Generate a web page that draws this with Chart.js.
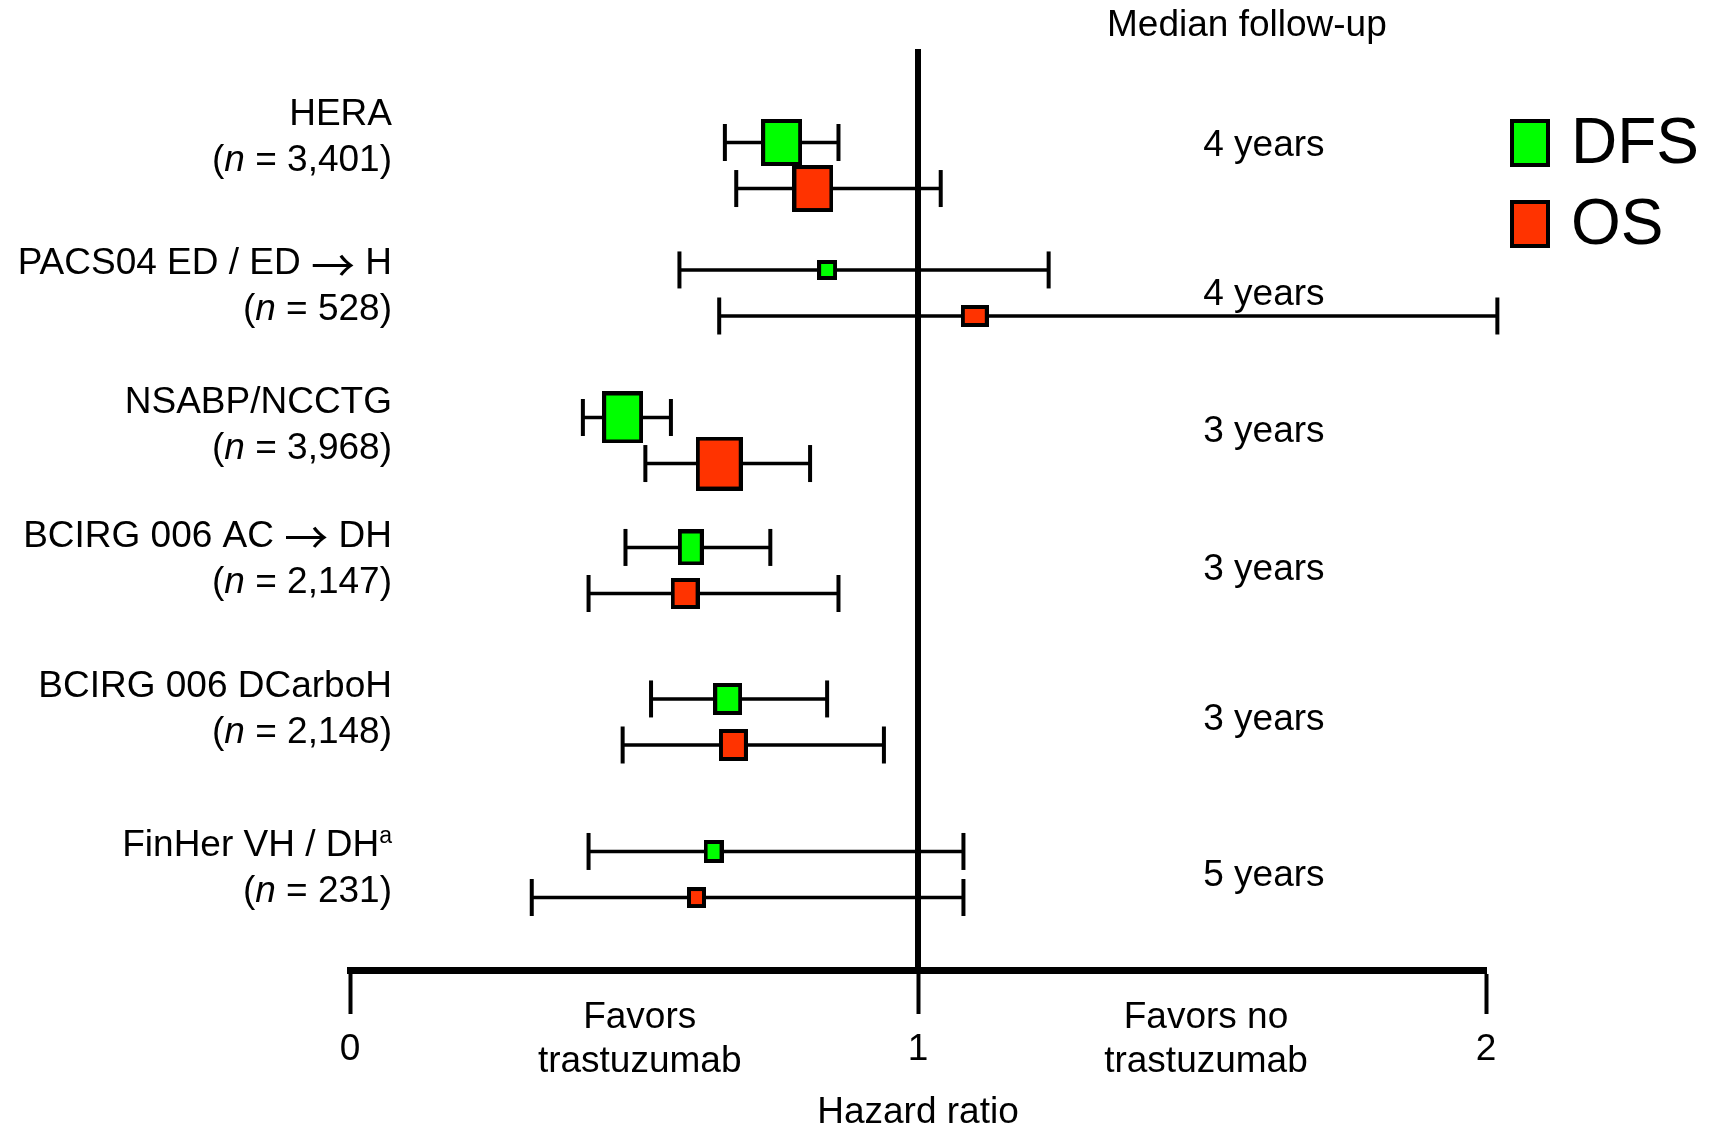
<!DOCTYPE html>
<html>
<head>
<meta charset="utf-8">
<script src="https://cdn.jsdelivr.net/npm/chart.js@4.4.1/dist/chart.umd.min.js"></script>
<style>
    html, body { margin: 0; padding: 0; background: #fff; }
    #wrap { width: 1711px; height: 1131px; position: relative; }
</style>
</head>
<body>
<div id="wrap"><canvas id="forest-chart"></canvas></div>
<script>
// Data
const studies = ["HERA", "PACS04 ED / ED \u2192 H", "NSABP/NCCTG", "BCIRG 006 AC \u2192 DH", "BCIRG 006 DCarboH", "FinHer VH / DH"];
const footnotes = ["", "", "", "", "", "a"];
const sampleSizes = ["3,401", "528", "3,968", "2,147", "2,148", "231"];
const followUp = ["4 years", "4 years", "3 years", "3 years", "3 years", "5 years"];
const dfsHR = [0.76, 0.84, 0.48, 0.60, 0.665, 0.64];
const dfsLow = [0.66, 0.58, 0.41, 0.485, 0.53, 0.42];
const dfsHigh = [0.86, 1.23, 0.565, 0.74, 0.84, 1.08];
const osHR = [0.815, 1.10, 0.65, 0.59, 0.675, 0.61];
const osLow = [0.68, 0.65, 0.52, 0.42, 0.48, 0.32];
const osHigh = [1.04, 2.02, 0.81, 0.86, 0.94, 1.08];
const xTicks = [0, 1, 2];

// Layout / style
const FONT = "'Liberation Sans', Arial, Helvetica, sans-serif";
const ARROW_FONT = "'Noto Sans CJK JP', 'DejaVu Sans', sans-serif";
const DFS_COLOR = "#00ff00";
const OS_COLOR = "#ff3300";
const rowPos = [1.265, 2.649, 4.251, 5.662, 7.307, 8.963];
const rowGap = 0.25;
const labelShift = [-28, -6, -15, -11, -12, -6];
const followShift = [-20, 2, -9, -1, -2, 1];
const dfsBox = [[41, 47], [20, 20], [41, 52], [26, 36], [29, 32], [20, 23]];
const osBox = [[41, 47], [28, 22], [47, 54], [29, 31], [29, 32], [19, 21]];

let makeBox = (w, h, fill) => {
    const c = document.createElement("canvas");
    c.width = w;
    c.height = h;
    const g = c.getContext("2d");
    g.fillStyle = "#000";
    g.fillRect(0, 0, w, h);
    g.fillStyle = fill;
    g.fillRect(4, 4, w - 8, h - 8);
    return c;
};

let boxPoints = (hr, side) => hr.map((v, i) => ({x: v, y: rowPos[i] + side * rowGap}));

let whiskerPoints = (lo, hi, side) => lo.flatMap((v, i) => {
    const y = rowPos[i] + side * rowGap;
    return [{x: v, y: y}, {x: hi[i], y: y}, {x: null, y: null}];
});

const normal = "37px " + FONT;
const italic = "italic 37px " + FONT;
const arrow = "44px " + ARROW_FONT;

// split a label so the arrow gets a font with a long thin arrow
let labelRuns = text => text.split("\u2192").flatMap((part, i) => {
    const runs = i > 0 ? [{text: "\u2192", font: arrow, dy: 1}] : [];
    return part ? runs.concat({text: part, font: normal}) : runs;
});

let drawRuns = (ctx, right, y, runs) => {
    let total = 0;
    runs.forEach(r => {
        ctx.font = r.font;
        r.w = ctx.measureText(r.text).width;
        total += r.w;
    });
    let x = right - total;
    runs.forEach(r => {
        ctx.font = r.font;
        ctx.fillText(r.text, x, y + (r.dy || 0));
        x += r.w;
    });
};

// Texts around the plot
const forestText = {
    id: "forestText",
    afterDraw(chart) {
        const {ctx, chartArea, scales: {x, y}} = chart;
        ctx.save();
        ctx.fillStyle = "#000";
        ctx.textBaseline = "middle";
        ctx.textAlign = "left";

        const right = chartArea.left + 42;
        studies.forEach((name, i) => {
            const cy = y.getPixelForValue(rowPos[i]) + labelShift[i];
            const first = labelRuns(name);
            if (footnotes[i]) first.push({text: footnotes[i], font: "23px " + FONT, dy: -9});
            drawRuns(ctx, right, cy - 23, first);
            drawRuns(ctx, right, cy + 23, [
                {text: "(", font: normal},
                {text: "n", font: italic},
                {text: " = " + sampleSizes[i] + ")", font: normal}
            ]);
        });

        ctx.textAlign = "center";
        ctx.font = normal;
        ctx.fillText("Median follow-up", x.getPixelForValue(1.579), 26);
        followUp.forEach((t, i) => {
            ctx.fillText(t, x.getPixelForValue(1.609), y.getPixelForValue(rowPos[i]) + followShift[i]);
        });

        const b = chartArea.bottom;
        ctx.fillText("Favors", x.getPixelForValue(0.51), b + 48);
        ctx.fillText("trastuzumab", x.getPixelForValue(0.51), b + 92);
        ctx.fillText("Favors no", x.getPixelForValue(1.507), b + 48);
        ctx.fillText("trastuzumab", x.getPixelForValue(1.507), b + 92);

        // Legend
        const lx = chartArea.right + 24;
        [["DFS", DFS_COLOR, 143], ["OS", OS_COLOR, 224]].forEach(([label, color, ly]) => {
            ctx.fillStyle = "#000";
            ctx.fillRect(lx, ly - 24, 40, 48);
            ctx.fillStyle = color;
            ctx.fillRect(lx + 4, ly - 20, 32, 40);
            ctx.fillStyle = "#000";
            ctx.textAlign = "left";
            ctx.font = "64px " + FONT;
            ctx.fillText(label, lx + 61, ly + 2);
        });
        ctx.restore();
    }
};

let initChart = () => {
    const ctx = "forest-chart";

    const whiskerStyle = {
        type: "line",
        borderColor: "#000",
        borderWidth: 3.5,
        pointStyle: "line",
        pointRotation: 90,
        pointRadius: 18.5,
        pointBorderWidth: 4,
        pointBorderColor: "#000",
        spanGaps: false,
        clip: false
    };

    const datasets = [
        {
            label: "DFS",
            data: boxPoints(dfsHR, -1),
            showLine: false,
            pointStyle: dfsBox.map(s => makeBox(s[0], s[1], DFS_COLOR)),
            pointRadius: 10,
            backgroundColor: DFS_COLOR,
            clip: false
        },
        {
            label: "OS",
            data: boxPoints(osHR, 1),
            showLine: false,
            pointStyle: osBox.map(s => makeBox(s[0], s[1], OS_COLOR)),
            pointRadius: 10,
            backgroundColor: OS_COLOR,
            clip: false
        },
        Object.assign({label: "DFS CI", data: whiskerPoints(dfsLow, dfsHigh, -1)}, whiskerStyle),
        Object.assign({label: "OS CI", data: whiskerPoints(osLow, osHigh, 1)}, whiskerStyle),
        {
            label: "No effect",
            data: [{x: 1, y: 0}, {x: 1, y: 10}],
            borderColor: "#000",
            borderWidth: 6,
            pointRadius: 0,
            clip: false
        }
    ];

    const chartOptions = {
        responsive: true,
        maintainAspectRatio: false,
        animation: false,
        events: [],
        layout: {
            padding: {left: 350, right: 225, top: 49, bottom: 0}
        },
        plugins: {
            legend: {display: false},
            tooltip: {enabled: false}
        },
        scales: {
            x: {
                type: "linear",
                min: 0,
                max: 2,
                afterBuildTicks: s => { s.ticks = xTicks.map(v => ({value: v})); },
                afterFit: s => { s.height = 161; },
                ticks: {
                    color: "#000",
                    font: {family: FONT, size: 37},
                    padding: 14,
                    maxRotation: 0
                },
                grid: {
                    drawOnChartArea: false,
                    drawTicks: true,
                    tickLength: 44,
                    tickWidth: 4,
                    tickColor: "#000"
                },
                border: {display: true, color: "#000", width: 7},
                title: {
                    display: true,
                    text: "Hazard ratio",
                    color: "#000",
                    font: {family: FONT, size: 37, lineHeight: 1},
                    padding: 0
                }
            },
            y: {
                type: "linear",
                min: 0,
                max: 10,
                reverse: true,
                display: false
            }
        }
    };

    new Chart(ctx, {
        type: "line",
        data: {datasets: datasets},
        options: chartOptions,
        plugins: [forestText]
    });
};

initChart();
</script>
</body>
</html>
